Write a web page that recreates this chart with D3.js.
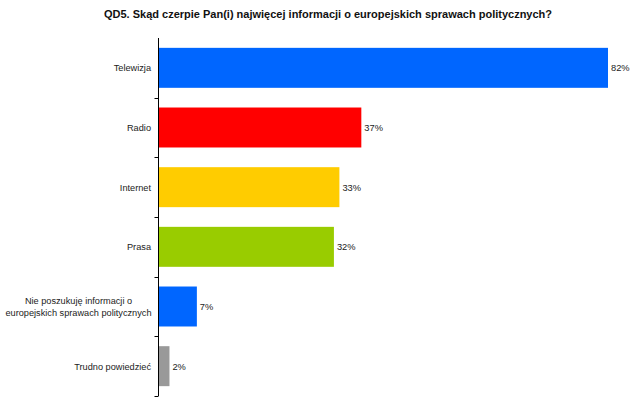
<!DOCTYPE html>
<html><head><meta charset="utf-8">
<script src="https://cdn.jsdelivr.net/npm/d3@7"></script>
<style>body{margin:0;background:#fff;} svg{display:block;}</style>
</head><body>
<svg id="c" width="640" height="401"></svg>
<script>
const categories = ["Telewizja","Radio","Internet","Prasa","Nie poszukuję informacji o|europejskich sprawach politycznych","Trudno powiedzieć"];
const values = [82,37,33,32,7,2];
const colors = ["#0066ff","#ff0000","#ffcc00","#99cc00","#0066ff","#999999"];
const title = "QD5. Skąd czerpie Pan(i) najwięcej informacji o europejskich sprawach politycznych?";

(function(){
const svg = d3.select("#c");
const font = "Arial, 'Liberation Sans', sans-serif";
const x0 = 158.5, yTop = 38, yBottom = 396;
const x = d3.scaleLinear().domain([0, 82]).range([x0, 608]);
const y = d3.scaleBand().domain(categories).range([yTop, yBottom]).paddingInner(0.33).paddingOuter(0.165);

svg.append("text").attr("x", 328).attr("y", 18).attr("text-anchor","middle")
  .attr("font-family", font).attr("font-weight","bold").attr("font-size", 11).attr("fill","#111").text(title);

svg.selectAll("rect.bar").data(categories).enter().append("rect")
  .attr("x", x0).attr("y", d => y(d)).attr("width", (d,i) => x(values[i]) - x0)
  .attr("height", y.bandwidth()).attr("fill", (d,i) => colors[i]);

svg.selectAll("text.val").data(categories).enter().append("text")
  .attr("x", (d,i) => x(values[i]) + 3).attr("y", d => y(d) + y.bandwidth()/2 + 3.5)
  .attr("font-family", font).attr("font-size", 9.3).attr("fill","#222")
  .text((d,i) => values[i] + "%");

categories.forEach(c => {
  const lines = c.split("|");
  const cy = y(c) + y.bandwidth()/2;
  const multi = lines.length > 1;
  const t = svg.append("text").attr("text-anchor", multi ? "middle" : "end").attr("font-family", font)
    .attr("font-size", 9.2).attr("fill","#222");
  lines.forEach((ln, j) => {
    t.append("tspan").attr("x", multi ? 78.5 : 151)
      .attr("y", cy + 3.5 + (j - (lines.length-1)/2) * 12).text(ln);
  });
});

const bounds = d3.range(0, categories.length + 1).map(k => yTop + k * (yBottom - yTop) / categories.length);
svg.append("line").attr("x1", x0).attr("x2", x0).attr("y1", yTop).attr("y2", yBottom)
  .attr("stroke","#000").attr("stroke-width",1);
svg.selectAll("line.tick").data(bounds.slice(1)).enter().append("line")
  .attr("x1", x0 - 4).attr("x2", x0).attr("y1", d => Math.round(d)+0.5).attr("y2", d => Math.round(d)+0.5)
  .attr("stroke","#000").attr("stroke-width",1);
})();
</script>
</body></html>
